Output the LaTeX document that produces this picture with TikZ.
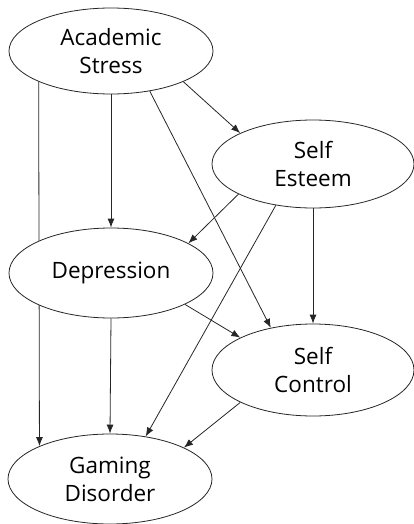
\documentclass[tikz,border=0pt]{standalone}
\usepackage{fontspec}
\setmainfont{Open Sans}
\usetikzlibrary{shapes.geometric,arrows.meta,backgrounds}
\begin{document}
\begin{tikzpicture}[x=1pt,y=-1pt,
  var/.style={ellipse,draw=black!85,line width=0.8pt,fill=white,inner sep=0pt,
    minimum width=204pt,minimum height=88pt,align=center,
    font=\fontsize{22.5}{28}\selectfont},
  link/.style={draw=black!85,line width=0.8pt,-{Latex[length=9pt,width=7pt]}}]
\useasboundingbox (0,0) rectangle (414,524);
\node[var,minimum height=86pt] (AS) at (111,51) {Academic\\Stress};
\node[var,minimum width=202pt] (SE) at (313,164) {Self\\Esteem};
\node[var,minimum height=90pt] (DP) at (111,273) {Depression};
\node[var,minimum width=202pt,minimum height=92pt] (SC) at (313,370) {Self\\Control};
\node[var,minimum height=90pt] (GD) at (110,479) {Gaming\\Disorder};
\begin{pgfonlayer}{background}
\draw[link] (AS.337) -- (SE.157.4);
\draw[link] (AS.south) -- (DP.north);
\draw[link] (AS.203.5) -- (GD.155);
\draw[link] (AS.314.5) -- (SC.135.9);
\draw[link] (SE.202.6) -- (DP.21.5);
\draw[link] (SE.228.8) -- (GD.50.4);
\draw[link] (SE.south) -- (SC.north);
\draw[link] (DP.337.3) -- (SC.156.5);
\draw[link] (DP.south) -- (GD.north);
\draw[link] (SC.204.7) -- (GD.23.3);
\end{pgfonlayer}
\end{tikzpicture}
\end{document}
